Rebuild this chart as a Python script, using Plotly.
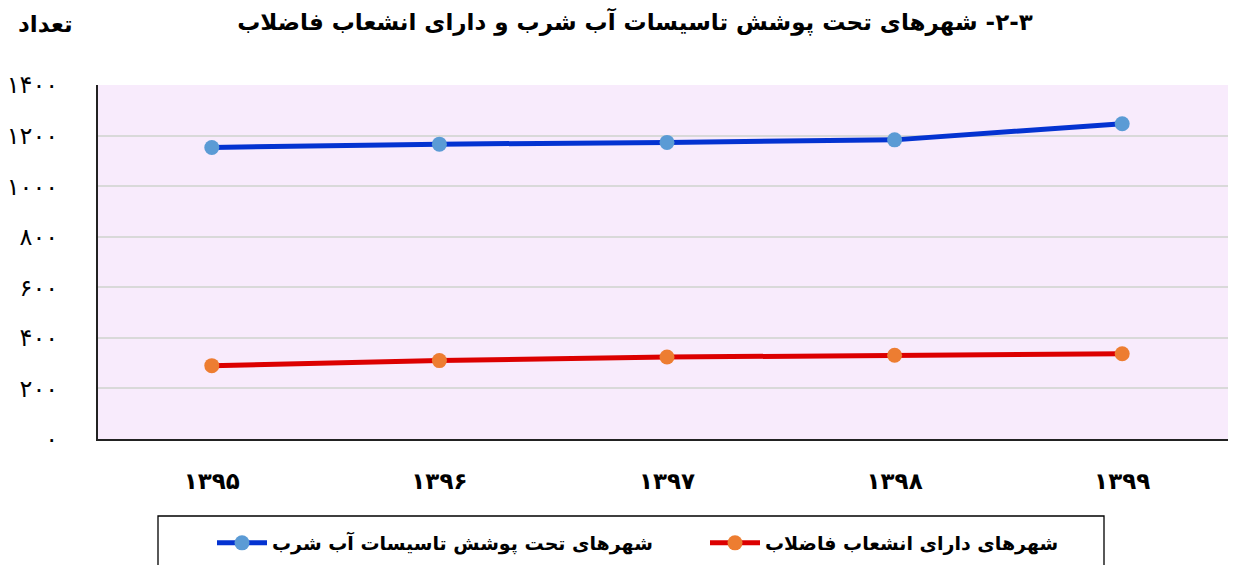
import plotly.graph_objects as go

years = ["۱۳۹۵", "۱۳۹۶", "۱۳۹۷", "۱۳۹۸", "۱۳۹۹"]
water_cities = [1153, 1166, 1173, 1183, 1247]
sewage_cities = [290, 310, 324, 331, 337]
y_tick_vals = [0, 200, 400, 600, 800, 1000, 1200, 1400]
y_tick_text = ["۰", "۲۰۰", "۴۰۰", "۶۰۰", "۸۰۰", "۱۰۰۰", "۱۲۰۰", "۱۴۰۰"]
name_water = "شهرهای تحت پوشش تاسیسات آب شرب"
name_sewage = "شهرهای دارای انشعاب فاضلاب"
title_text = "٣-٢- شهرهای تحت پوشش تاسیسات آب شرب و دارای انشعاب فاضلاب"
y_title = "تعداد"

FONT = "DejaVu Sans"
OFF = 8  # page body margin
W, H = 1236 - OFF, 565 - OFF
ML, MR, MT, MB = 98 - OFF, 0, 85 - OFF, 126
PW, PH = W - ML - MR, H - MT - MB


def px(x):  # page x -> paper x
    return (x - OFF - ML) / PW


def py(y):  # page y -> paper y
    return (MT + PH - (y - OFF)) / PH


fig = go.Figure()
fig.add_trace(go.Scatter(
    x=years, y=water_cities, name="<b>" + name_water + "</b>", mode="lines+markers",
    line=dict(color="#0433D1", width=5),
    marker=dict(color="#5B9BD5", size=15),
))
fig.add_trace(go.Scatter(
    x=years, y=sewage_cities, name="<b>" + name_sewage + "</b>", mode="lines+markers",
    line=dict(color="#DC0000", width=5),
    marker=dict(color="#ED7D31", size=15),
))

fig.update_layout(
    width=W, height=H,
    margin=dict(l=ML, r=MR, t=MT, b=MB),
    paper_bgcolor="white",
    plot_bgcolor="#F8EBFC",
    font=dict(family=FONT, color="black"),
    title=dict(text="<b>" + title_text + "</b>", x=(635 - OFF) / W, xanchor="center",
               y=1 - (22 - OFF) / H, yanchor="middle", xref="container", yref="container",
               font=dict(size=23, family=FONT, color="black")),
    showlegend=True,
    legend=dict(orientation="h", xref="container", yref="container",
                x=(212 - OFF) / W, xanchor="left", y=1 - (543 - OFF) / H, yanchor="middle",
                borderwidth=0, bgcolor="rgba(0,0,0,0)",
                entrywidth=428, entrywidthmode="pixels",
                font=dict(size=19, family=FONT, color="black"),
                itemwidth=50),
    annotations=[dict(text="<b>" + y_title + "</b>", xref="paper", yref="paper",
                      x=px(45), y=py(24), xanchor="center", yanchor="middle",
                      showarrow=False, font=dict(size=23, family=FONT, color="black"))],
    shapes=[dict(type="rect", xref="paper", yref="paper",
                 x0=px(158), x1=px(1104), y0=py(516), y1=py(575),
                 line=dict(color="black", width=1.3), fillcolor="rgba(0,0,0,0)")],
)

fig.update_xaxes(
    type="category", range=[-0.5, 4.5],
    showline=True, linecolor="#222222", linewidth=2,
    showgrid=False, ticks="", ticklabelstandoff=20,
    tickfont=dict(size=23, family=FONT, color="black"),
    tickprefix="<b>", ticksuffix="</b>",
)
fig.update_yaxes(
    range=[0, 1400], tickvals=y_tick_vals, ticktext=y_tick_text,
    showline=True, linecolor="#222222", linewidth=2,
    showgrid=True, gridcolor="#D9D9D9", gridwidth=1.5,
    zeroline=False, ticks="", ticklabelstandoff=33,
    tickfont=dict(size=24, family=FONT, color="black"),
)

fig.write_html("out.html")
